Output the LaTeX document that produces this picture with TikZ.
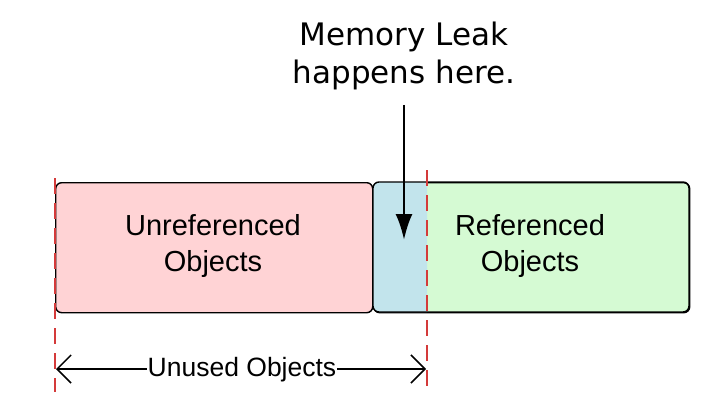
\documentclass[tikz,border=0pt]{standalone}
\usepackage{fontspec}
\setmainfont{Liberation Sans}
\newfontfamily\topfont{DejaVu Sans}
\usetikzlibrary{arrows.meta}
\definecolor{pinkfill}{HTML}{FFD3D5}
\definecolor{bluefill}{HTML}{C2E4EC}
\definecolor{greenfill}{HTML}{D5FAD3}
\definecolor{dashred}{HTML}{D43A3A}
\tikzset{
  box/.style={draw=black, line width=1.4pt, rounded corners=6pt},
  lbl/.style={font=\fontsize{29}{36}\selectfont, align=center, text=black},
  marker/.style={draw=dashred, line width=2.2pt, dash pattern=on 16pt off 9pt},
}
\begin{document}
\begin{tikzpicture}[x=1pt,y=-1pt]
\useasboundingbox (0,0) rectangle (717,401);
\fill[white] (0,0) rectangle (717,401);
% boxes
\node[box, fill=pinkfill, minimum width=317pt, minimum height=130pt, anchor=north west, inner sep=0pt] (unref) at (55,182) {};
\node[box, fill=greenfill, minimum width=316pt, minimum height=130pt, anchor=north west, inner sep=0pt] (ref) at (373,182) {};
\begin{scope}
  \clip (370,170) rectangle (427,320);
  \fill[bluefill, rounded corners=6pt] (373,182) rectangle (689,312);
\end{scope}
\draw[box] (373,182) rectangle (689,312);
\node[lbl] (unreflbl) at (213,246) {Unreferenced\\Objects};
\node[lbl] (reflbl) at (530,246) {Referenced\\Objects};
% red dashed markers
\coordinate (l1) at (55,178);
\coordinate (l2) at (55,392);
\coordinate (r1) at (427,170);
\coordinate (r2) at (427,392);
\draw[marker] (l1) -- (l2);
\draw[marker] (r1) -- (r2);
% top label and arrow
\node[font=\topfont\fontsize{31}{38}\selectfont, align=center] (leak) at (404,56) {Memory Leak\\happens here.};
\coordinate (tip) at (404,240);
\draw[line width=2.6pt, -{Latex[length=26pt,width=17pt]}] (404,105) -- (tip);
% bottom dimension
\coordinate (a) at (56,369);
\coordinate (b) at (426,369);
\draw[line width=1.5pt, {Straight Barb[length=14pt,width=28pt]}-{Straight Barb[length=14pt,width=28pt]}] (a) -- (b);
\node[fill=white, inner sep=1pt, font=\fontsize{26.5}{30}\selectfont] (unused) at (242,370) {Unused Objects};
\end{tikzpicture}
\end{document}
